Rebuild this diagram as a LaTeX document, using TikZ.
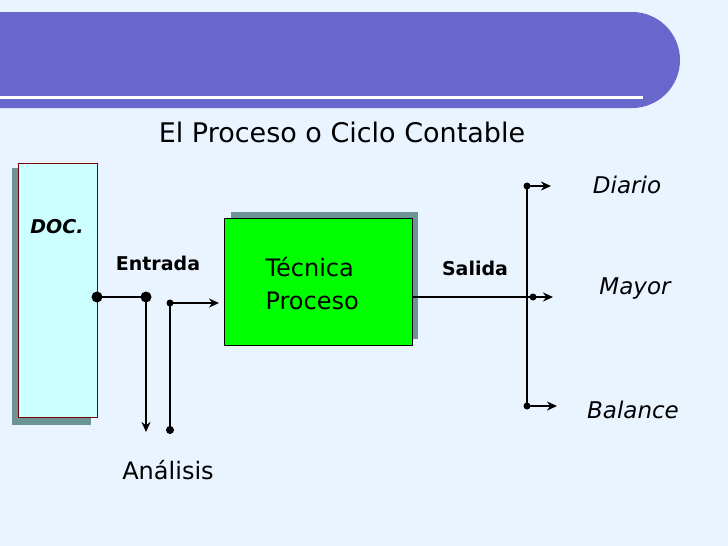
\documentclass[tikz,border=0pt]{standalone}
\usepackage{fontspec}
\setmainfont{DejaVu Sans}
\usetikzlibrary{arrows.meta}
\definecolor{bg}{HTML}{EAF4FF}
\definecolor{ban}{HTML}{6868CC}
\definecolor{shad}{HTML}{6B9494}
\tikzset{
 ln/.style={line width=2.6pt},
 arr/.style={ln,-{Stealth[length=10pt,width=9pt]}},
 dot/.style={circle,fill=black,inner sep=0pt,minimum size=#1},
 lbl/.style={font=\fontsize{23}{26}\selectfont\itshape},
}
\begin{document}
\begin{tikzpicture}[x=1pt,y=-1pt]
\fill[bg] (0,0) rectangle (728,546);
\useasboundingbox (0,0) rectangle (728,546);
\fill[ban] (0,12) -- (632,12) arc[start angle=-90,end angle=90,x radius=48,y radius=48] -- (0,108) -- cycle;
\draw[white,line width=3pt] (0,97) -- (643,97);
\node[font=\fontsize{27}{30}\selectfont] (title) at (342,132) {El Proceso o Ciclo Contable};
% DOC
\fill[shad] (12,168) rectangle (91,425);
\draw[fill={rgb,255:red,204;green,255;blue,255},draw={rgb,255:red,120;green,0;blue,0},line width=0.8pt] (18,163) rectangle (97,417);
\node[font=\fontsize{19}{22}\selectfont\bfseries\itshape] (doc) at (57,227) {DOC.};
% green box
\fill[shad] (231,212) rectangle (418,339);
\draw[fill={rgb,255:red,0;green,255;blue,0},line width=1pt] (224,218) rectangle (412,345);
\node[font=\fontsize{24}{33}\selectfont,align=left,anchor=west] (tec) at (262,284) {Técnica\\ Proceso};
\node[font=\fontsize{19}{22}\selectfont\bfseries] (ent) at (158,263) {Entrada};
\node[font=\fontsize{19}{22}\selectfont\bfseries] (sal) at (475,268) {Salida};
\node[font=\fontsize{24}{28}\selectfont] (ana) at (168,470) {Análisis};
\node[lbl] (dia) at (627,185) {Diario};
\node[lbl] (may) at (635,289) {Mayor};
\node[lbl] (bal) at (633,410) {Balance};
% input connectors
\coordinate (p1) at (97,297);
\coordinate (p2) at (146,297);
\coordinate (p3) at (146,432);
\coordinate (q1) at (170,303);
\coordinate (q2) at (170,430);
\coordinate (q3) at (219,303);
\draw[ln] (p1) -- (p2);
\draw[arr] (p2) -- (p3);
\draw[ln] (q1) -- (q2);
\draw[arr] (q1) -- (q3);
\node[dot=11pt] at (p1) {};
\node[dot=11pt] at (p2) {};
\node[dot=7pt] at (q1) {};
\node[dot=8pt] at (q2) {};
% output
\coordinate (o1) at (412,297);
\coordinate (o2) at (533,297);
\coordinate (o3) at (553,297);
\coordinate (v1) at (527,186);
\coordinate (v2) at (527,406);
\coordinate (d2) at (551,186);
\coordinate (b2) at (557,406);
\draw[ln] (o1) -- (o2);
\draw[ln] (v1) -- (v2);
\draw[arr] (o2) -- (o3);
\draw[arr] (v1) -- (d2);
\draw[arr] (v2) -- (b2);
\node[dot=7pt] at (o2) {};
\node[dot=7pt] at (v1) {};
\node[dot=7pt] at (v2) {};
\end{tikzpicture}
\end{document}
